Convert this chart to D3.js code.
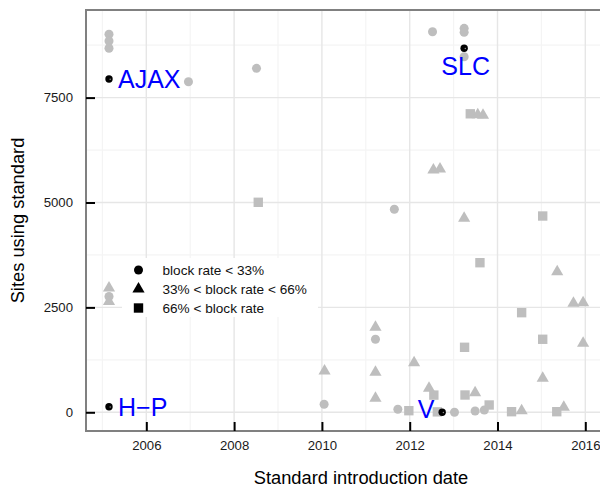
<!DOCTYPE html>
<html>
<head>
<meta charset="utf-8">
<script src="https://cdn.jsdelivr.net/npm/d3@7/dist/d3.min.js"></script>
<style>
  body { margin: 0; background: #fff; }
  svg { display: block; font-family: "Liberation Sans", Arial, Helvetica, sans-serif; }
</style>
</head>
<body>
<svg id="chart" width="600" height="487"></svg>
<script>
// Introduction year of each web standard and how many sites use it
const introYear = [
  2005.15, 2005.15, 2005.15, 2005.15, 2005.15, 2005.15, 2005.15, 2005.15,
  2006.96, 2008.51, 2008.55, 2010.06, 2010.05,
  2011.22, 2011.22, 2011.22, 2011.22, 2011.65, 2011.73, 2011.98,
  2012.10, 2012.44, 2012.55, 2012.54, 2012.69, 2012.52, 2012.63, 2012.74,
  2013.02, 2013.24, 2013.24, 2013.24, 2013.24, 2013.38, 2013.55, 2013.67,
  2013.24, 2013.60, 2013.25, 2013.26, 2013.49, 2013.49, 2013.70, 2013.81,
  2014.32, 2014.55, 2014.55, 2015.03, 2015.03, 2015.03, 2015.36, 2015.35,
  2015.51, 2015.73, 2015.95, 2015.95
];
const sitesUsing = [
  9009, 8849, 8675, 7943, 2962, 2760, 2641, 133,
  7879, 8198, 5005, 984, 190,
  2026, 1740, 953, 334, 4838, 71, 38,
  1182, 572, 410, 5774, 5798, 9071, 10, 0,
  0, 9151, 9056, 8675, 8475, 7114, 7090, 7080,
  4623, 3565, 1549, 412, 467, 31, 55, 174,
  14, 38, 2374, 4678, 1740, 810, 3351, 14,
  119, 2598, 2612, 1644
];
// 0: block rate < 33%, 1: 33%–66%, 2: > 66%
const blockClass = [
  0, 0, 0, 0, 1, 0, 1, 0,
  0, 0, 2, 1, 0,
  1, 0, 1, 1, 0, 0, 2,
  1, 1, 2, 1, 1, 0, 2, 0,
  0, 0, 0, 0, 0, 2, 1, 1,
  1, 2, 2, 2, 1, 0, 0, 2,
  2, 1, 2, 2, 2, 1, 1, 2,
  1, 1, 1, 1
];
// Named standards, by index into the arrays above
const namedIndex = [3, 31, 7, 27];
const namedLabel = ["AJAX", "SLC", "H\u2212P", "V"];

const classNames = ["block rate < 33%", "33% < block rate < 66%", "66% < block rate"];
const xTicks = [2006, 2008, 2010, 2012, 2014, 2016];
const yTicks = [0, 2500, 5000, 7500];

const svg = d3.select("#chart");
const panel = { left: 86, top: 10, right: 636, bottom: 431 };

const x = d3.scaleLinear().domain([2004.626, 2017.155]).range([panel.left, panel.right]);
const y = d3.scaleLinear().domain([-446, 9588]).range([panel.bottom, panel.top]);

const grey = "#bebebe";
const shapes = [d3.symbolCircle, d3.symbolTriangle, d3.symbolSquare];
const sizes = [64, 64, 88];

// background
svg.append("rect").attr("x", panel.left).attr("y", panel.top)
  .attr("width", panel.right - panel.left).attr("height", panel.bottom - panel.top)
  .attr("fill", "#fff");

// minor grid
const xMinor = [2005, 2007, 2009, 2011, 2013, 2015, 2017];
const yMinor = [1250, 3750, 6250, 8750];
const grid = svg.append("g");
grid.selectAll(".xm").data(xMinor).join("line")
  .attr("x1", d => x(d)).attr("x2", d => x(d)).attr("y1", panel.top).attr("y2", panel.bottom)
  .attr("stroke", "#f4f4f4").attr("stroke-width", 1.2);
grid.selectAll(".ym").data(yMinor).join("line")
  .attr("x1", panel.left).attr("x2", panel.right).attr("y1", d => y(d)).attr("y2", d => y(d))
  .attr("stroke", "#f4f4f4").attr("stroke-width", 1.2);
// major grid
grid.selectAll(".xM").data(xTicks).join("line")
  .attr("x1", d => x(d)).attr("x2", d => x(d)).attr("y1", panel.top).attr("y2", panel.bottom)
  .attr("stroke", "#e6e6e6").attr("stroke-width", 1.4);
grid.selectAll(".yM").data(yTicks).join("line")
  .attr("x1", panel.left).attr("x2", panel.right).attr("y1", d => y(d)).attr("y2", d => y(d))
  .attr("stroke", "#e6e6e6").attr("stroke-width", 1.4);

// legend box (drawn inside panel, under points)
svg.append("rect").attr("x", 122).attr("y", 258)
  .attr("width", 196).attr("height", 59).attr("fill", "#fff");

// points
const idx = d3.range(introYear.length);
const sym = d3.symbol();
svg.append("g").selectAll("path").data(idx.filter(i => !namedIndex.includes(i))).join("path")
  .attr("transform", i => `translate(${x(introYear[i])},${y(sitesUsing[i])})`)
  .attr("d", i => sym.type(shapes[blockClass[i]]).size(sizes[blockClass[i]])())
  .attr("fill", grey);

// highlighted standards
const named = svg.append("g");
namedIndex.forEach(i => {
  const g = named.append("g").attr("transform", `translate(${x(introYear[i])},${y(sitesUsing[i])})`);
  g.append("circle").attr("r", 3.7).attr("fill", "#000");
  g.append("circle").attr("cx", 1.2).attr("cy", 0.2).attr("r", 0.75).attr("fill", "#8c8c8c");
});

// labels for highlighted standards
const labelPlace = [
  { dx: 9, dy: 8.5, anchor: "start" },
  { dx: 1.5, dy: 26.7, anchor: "middle" },
  { dx: 9, dy: 9, anchor: "start" },
  { dx: -16, dy: 6, anchor: "middle" }
];
namedIndex.forEach((i, k) => {
  svg.append("text")
    .attr("x", x(introYear[i]) + labelPlace[k].dx)
    .attr("y", y(sitesUsing[i]) + labelPlace[k].dy)
    .attr("text-anchor", labelPlace[k].anchor)
    .attr("font-size", 25).attr("fill", "#0000ff")
    .text(namedLabel[k]);
});

// legend
const legend = svg.append("g");
classNames.forEach((name, k) => {
  const ly = 270 + k * 19;
  legend.append("path")
    .attr("transform", `translate(138.5,${ly})`)
    .attr("d", d3.symbol().type(shapes[k]).size(sizes[k])())
    .attr("fill", "#000");
  legend.append("text").attr("x", 162.5).attr("y", ly + 4.8)
    .attr("font-size", 13.6).attr("fill", "#111").text(name);
});

// panel border
svg.append("rect").attr("x", panel.left).attr("y", panel.top)
  .attr("width", panel.right - panel.left).attr("height", panel.bottom - panel.top)
  .attr("fill", "none").attr("stroke", "#808080").attr("stroke-width", 2);

// axes with inward ticks
const xAxis = svg.append("g").attr("transform", `translate(0,${panel.bottom})`)
  .call(d3.axisBottom(x).tickValues(xTicks).tickFormat(d3.format("d")).tickSizeInner(-9).tickSizeOuter(0).tickPadding(10));
const yAxis = svg.append("g").attr("transform", `translate(${panel.left},0)`)
  .call(d3.axisLeft(y).tickValues(yTicks).tickFormat(d3.format("d")).tickSizeInner(-9).tickSizeOuter(0).tickPadding(13));
[xAxis, yAxis].forEach(a => {
  a.select(".domain").remove();
  a.selectAll(".tick line").attr("stroke", "#000").attr("stroke-width", 2);
  a.selectAll(".tick text").attr("font-size", 13.2).attr("fill", "#1a1a1a")
    .attr("font-family", "Liberation Sans, Arial, sans-serif");
});

// axis titles
svg.append("text").attr("x", (panel.left + panel.right) / 2).attr("y", 484)
  .attr("text-anchor", "middle").attr("font-size", 18.3).attr("fill", "#000")
  .text("Standard introduction date");
svg.append("text").attr("transform", `translate(24,${(panel.top + panel.bottom) / 2}) rotate(-90)`)
  .attr("text-anchor", "middle").attr("font-size", 18.3).attr("fill", "#000")
  .text("Sites using standard");
</script>
</body>
</html>
